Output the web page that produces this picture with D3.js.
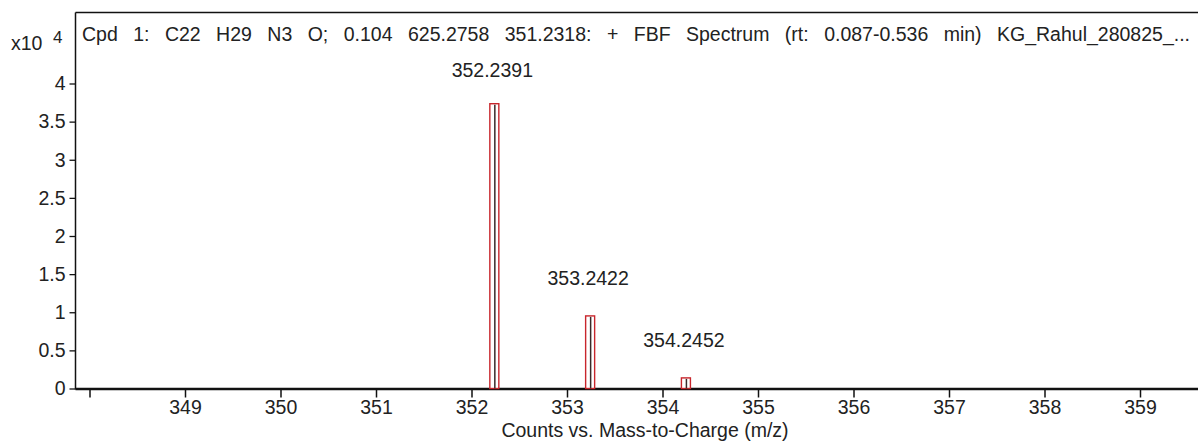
<!DOCTYPE html>
<html>
<head>
<meta charset="utf-8">
<script src="https://cdn.jsdelivr.net/npm/d3@7/dist/d3.min.js"></script>
<style>
  html, body { margin: 0; padding: 0; background: #fff; }
  svg { display: block; }
  text { font-family: "Liberation Sans", Arial, sans-serif; fill: #222; }
</style>
</head>
<body>
<svg id="chart" width="1198" height="448"></svg>
<script>
// Peak list of the spectrum (m/z and counts)
const peakMz = [352.2391, 353.2422, 354.2452];
const peakCounts = [37350, 9520, 1390];
const peakLabels = ["352.2391", "353.2422", "354.2452"];

// Axis ticks
const xTicks = [348, 349, 350, 351, 352, 353, 354, 355, 356, 357, 358, 359];
const xTickLabels = ["", "349", "350", "351", "352", "353", "354", "355", "356", "357", "358", "359"];
const yTicks = [0, 0.5, 1, 1.5, 2, 2.5, 3, 3.5, 4];
const yTickLabels = ["0", "0.5", "1", "1.5", "2", "2.5", "3", "3.5", "4"];

const titleText = "Cpd 1: C22 H29 N3 O; 0.104 625.2758 351.2318: + FBF Spectrum (rt: 0.087-0.536 min) KG_Rahul_280825_...";
const xTitle = "Counts vs. Mass-to-Charge (m/z)";

const W = 1198, H = 448;
const plot = { left: 75.5, top: 12.5, right: 1198, bottom: 388.5 };

const svg = d3.select("#chart");

// Scales: counts are shown in units of 10^4
const x = d3.scaleLinear()
  .domain([348, 359])
  .range([89.5, 1140]);
const y = d3.scaleLinear()
  .domain([0, 4])
  .range([plot.bottom, 83.5]);
const scaleExp = 4;

// Frame: top border and left axis line
svg.append("line")
  .attr("x1", plot.left).attr("x2", plot.right)
  .attr("y1", plot.top).attr("y2", plot.top)
  .attr("stroke", "#111").attr("stroke-width", 1.3);

// Y axis
const yAxis = d3.axisLeft(y)
  .tickValues(yTicks)
  .tickFormat((d, i) => yTickLabels[i])
  .tickSize(6)
  .tickPadding(4);
const gy = svg.append("g")
  .attr("transform", `translate(${plot.left},0)`)
  .call(yAxis);
gy.select(".domain").remove();
gy.selectAll(".tick line").attr("stroke", "#111").attr("stroke-width", 1.3);
gy.selectAll(".tick text")
  .attr("font-size", 19.5)
  .attr("fill", "#222")
  .attr("font-family", "'Liberation Sans', Arial, sans-serif");
svg.append("line")
  .attr("x1", plot.left).attr("x2", plot.left)
  .attr("y1", plot.top).attr("y2", plot.bottom + 1)
  .attr("stroke", "#111").attr("stroke-width", 1.5);

// X axis
const xAxis = d3.axisBottom(x)
  .tickValues(xTicks)
  .tickFormat((d, i) => xTickLabels[i])
  .tickSize(8)
  .tickPadding(3);
const gx = svg.append("g")
  .attr("transform", `translate(0,${plot.bottom + 1})`)
  .call(xAxis);
gx.select(".domain").remove();
gx.selectAll(".tick line").attr("stroke", "#111").attr("stroke-width", 1.5);
gx.selectAll(".tick text")
  .attr("font-size", 19.5)
  .attr("fill", "#222")
  .attr("font-family", "'Liberation Sans', Arial, sans-serif");
svg.append("line")
  .attr("x1", plot.left).attr("x2", plot.right)
  .attr("y1", plot.bottom + 0.5).attr("y2", plot.bottom + 0.5)
  .attr("stroke", "#111").attr("stroke-width", 2.6);

// Peaks: red outlined sticks with a dark centre line
const barHalf = 4.5;
const peaks = peakMz.map((mz, i) => ({ mz, v: peakCounts[i] / Math.pow(10, scaleExp), label: peakLabels[i] }));

const gp = svg.append("g");
gp.selectAll("rect.peak")
  .data(peaks)
  .join("rect")
  .attr("class", "peak")
  .attr("x", d => x(d.mz) - barHalf)
  .attr("y", d => y(d.v))
  .attr("width", barHalf * 2)
  .attr("height", d => y(0) - y(d.v))
  .attr("fill", "#fff")
  .attr("stroke", "#c8262c")
  .attr("stroke-width", 1.4);
gp.selectAll("line.stick")
  .data(peaks)
  .join("line")
  .attr("class", "stick")
  .attr("x1", d => x(d.mz) + 0.5).attr("x2", d => x(d.mz) + 0.5)
  .attr("y1", d => y(d.v) + 1).attr("y2", y(0))
  .attr("stroke", "#3a2a2a")
  .attr("stroke-width", 1.5);

// Peak annotations
gp.selectAll("text.plabel")
  .data(peaks)
  .join("text")
  .attr("class", "plabel")
  .attr("x", d => x(d.mz) - 2)
  .attr("y", d => Math.max(y(d.v) - 31, 77))
  .attr("text-anchor", "middle")
  .attr("font-size", 19.5)
  .text(d => d.label);

// Exponent marker
const ex = svg.append("text")
  .attr("x", 11).attr("y", 49.5)
  .attr("font-size", 19.5);
ex.append("tspan").text("x10");
ex.append("tspan").attr("x", 53).attr("y", 43).attr("font-size", 17).text(String(scaleExp));

// Title line, widened at the word gaps to span the header
const title = svg.append("text")
  .attr("x", 82).attr("y", 40.5)
  .attr("font-size", 19.5)
  .text(titleText);
const natural = title.node().getComputedTextLength();
const gaps = titleText.split(" ").length - 1;
title.attr("word-spacing", Math.max(0, (1108 - natural) / gaps));

// X axis title
svg.append("text")
  .attr("x", 645).attr("y", 437)
  .attr("text-anchor", "middle")
  .attr("font-size", 19.5)
  .text(xTitle);
</script>
</body>
</html>
